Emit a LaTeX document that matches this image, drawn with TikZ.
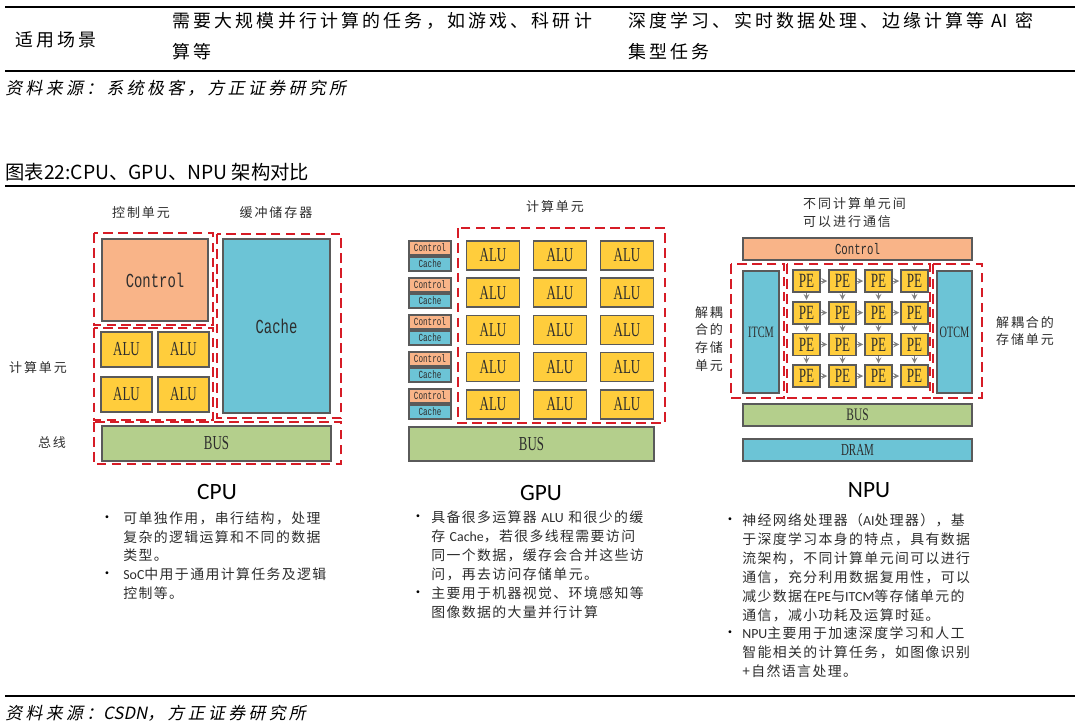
\documentclass[tikz,border=0pt]{standalone}
\usepackage{fontspec}
\setmainfont{Liberation Serif}
\newfontfamily\cjk{Noto Sans CJK SC}
\newfontfamily\cjkslant[FakeSlant=0.2]{Noto Sans CJK SC}
\newfontfamily\monofnt[FakeStretch=0.7]{Liberation Mono}
\newfontfamily\narrowfnt[FakeStretch=0.65]{Liberation Serif}
\newfontfamily\headfnt{Carlito}
\usepackage{tikz}
\usetikzlibrary
  {
    arrows,       % stealth tips in the PE grid
    positioning,  % place nodes relative to other nodes
    calc,
  }

\definecolor{ctrlorange}{RGB}{249,180,136}
\definecolor{cacheblue}{RGB}{108,196,214}
\definecolor{aluyellow}{RGB}{255,205,60}
\definecolor{busgreen}{RGB}{180,207,140}
\definecolor{dashred}{RGB}{214,28,38}
\definecolor{edgegray}{RGB}{90,90,90}
\definecolor{textdark}{RGB}{45,45,45}

\newcommand{\lt}[1]{{\headfnt #1}} % latin words inside the bullet text
\newcommand{\tight}[1]{{\addfontfeatures{LetterSpace=0}#1}} % latin words in spaced lines

\tikzset{
  wh/.style 2 args={minimum width=#1*0.02cm, minimum height=#2*0.02cm},
  blk/.style={draw=edgegray, line width=1pt, inner sep=0pt, text=textdark},
  ctrlbox/.style={blk, fill=ctrlorange},
  cachebox/.style={blk, fill=cacheblue},
  alubox/.style={blk, fill=aluyellow},
  busbox/.style={blk, fill=busgreen},
  region/.style={draw=dashred, line width=1.4pt, dash pattern=on 5.5pt off 3pt},
  flow/.style={draw=gray, line width=0.5pt, ->, >=stealth, shorten >=0.5pt},
  lbl/.style={font=\cjk\addfontfeatures{LetterSpace=15}\fontsize{7.4pt}{10.2pt}\selectfont, text=textdark},
  head/.style={font=\headfnt\fontsize{13.3pt}{15pt}\selectfont},
  bullettext/.style={anchor=north west, align=left, inner sep=0pt, text=textdark,
    font=\cjk\addfontfeatures{LetterSpace=10}\fontsize{7.9pt}{10.8pt}\selectfont},
  bulletmark/.style={inner sep=0pt, font=\cjk\fontsize{7.9pt}{9pt}\selectfont},
  tabtext/.style={inner sep=0pt, align=left,
    font=\cjk\addfontfeatures{LetterSpace=18}\fontsize{10.2pt}{17.6pt}\selectfont},
  srctext/.style={anchor=west, inner sep=0pt,
    font=\cjkslant\addfontfeatures{LetterSpace=20}\fontsize{9.6pt}{11pt}\selectfont},
}

\begin{document}
\begin{tikzpicture}[x=0.02cm, y=-0.02cm]
  \useasboundingbox (0,0) rectangle (1080,724);

  % table rows above the figure
  \draw[line width=1.7pt] (5,7) -- (1075,7);
  \node[tabtext, anchor=west] (scene) at (15,40) {适用场景};
  \node[tabtext, anchor=north west] (gpuuse) at (172,12)
    {需要大规模并行计算的任务，如游戏、科研计\\算等};
  \node[tabtext, anchor=north west] (npuuse) at (628,12)
    {深度学习、实时数据处理、边缘计算等 \tight{AI} 密\\集型任务};
  \draw[line width=1.7pt] (5,71) -- (1075,71);
  \node[srctext] (src1) at (5,88) {资料来源：系统极客，方正证券研究所};

  \node[anchor=west, inner sep=0pt, font=\cjk\fontsize{11pt}{12pt}\selectfont]
    (figtitle) at (5,172) {图表22:CPU、GPU、NPU 架构对比};
  \draw[line width=1.2pt] (5,186) -- (1075,186);

  % ---------------- CPU ----------------
  \node[lbl] (cpuctrllbl) at (141,213) {控制单元};
  \node[lbl] (cpucachelbl) at (276,213) {缓冲储存器};
  \node[lbl] (cpualulbl) at (38,368) {计算单元};
  \node[lbl] (cpubuslbl) at (52,443) {总线};

  \node[ctrlbox, wh={106}{82}, font=\monofnt\fontsize{11.3pt}{12pt}\selectfont]
    (ctrl) at (155,280) {Control};
  \foreach \r in {1,2}
    \foreach \c in {1,2}
      \node[alubox, wh={51}{35}, font=\narrowfnt\fontsize{11.3pt}{12pt}\selectfont]
        (alu-\r-\c) at (69.5+57*\c, 304.5+45*\r) {ALU};
  \node[cachebox, wh={107}{174}, font=\monofnt\fontsize{11.3pt}{12pt}\selectfont]
    (cache) at (276.5,326) {Cache};
  \node[busbox, wh={229}{35}, font=\narrowfnt\fontsize{11.3pt}{12pt}\selectfont]
    (bus) at (216.5,443.5) {BUS};

  \draw[region] (94,233) rectangle (213,325);
  \draw[region] (94,328) rectangle (213,420);
  \draw[region] (217,234) rectangle (341,418);
  \draw[region] (94,422) rectangle (341,464);

  \node[head] (cputitle) at (217,492) {CPU};
  \node[bulletmark] (cpub1) at (107,519) {•};
  \node[bullettext] (cput1) at (123,511)
    {可单独作用，串行结构，处理\\复杂的逻辑运算和不同的数据\\类型。};
  \node[bulletmark] (cpub2) at (107,575) {•};
  \node[bullettext] (cput2) at (123,567)
    {\lt{SoC}中用于通用计算任务及逻辑\\控制等。};

  % ---------------- GPU ----------------
  \node[lbl] (gpualulbl) at (555,207) {计算单元};
  \foreach \i in {0,...,4}
  {
    \node[ctrlbox, wh={42}{14}, font=\monofnt\fontsize{6.2pt}{7pt}\selectfont]
      (gctrl-\i) at (430,248+37*\i) {Control};
    \node[cachebox, wh={42}{14}, font=\monofnt\fontsize{6.2pt}{7pt}\selectfont,
      below=0pt of gctrl-\i] (gcache-\i) {Cache};
  }
  \foreach \r in {0,...,4}
    \foreach \c in {0,1,2}
      \node[alubox, wh={53}{29}, font=\narrowfnt\fontsize{11.3pt}{12pt}\selectfont]
        (galu-\r-\c) at (493+67*\c, 255.5+37.2*\r) {ALU};
  \draw[region] (458,228) rectangle (665,423);
  \node[busbox, wh={245}{34}, font=\narrowfnt\fontsize{11.3pt}{12pt}\selectfont]
    (gbus) at (531.5,444) {BUS};

  \node[head] (gputitle) at (541,493) {GPU};
  \node[bulletmark] (gpub1) at (418,518) {•};
  \node[bullettext] (gput1) at (431,510)
    {具备很多运算器 \lt{ALU} 和很少的缓\\存 \lt{Cache}，若很多线程需要访问\\同一个数据，缓存会合并这些访\\问，再去访问存储单元。};
  \node[bulletmark] (gpub2) at (418,594) {•};
  \node[bullettext] (gput2) at (431,586)
    {主要用于机器视觉、环境感知等\\图像数据的大量并行计算};

  % ---------------- NPU ----------------
  \node[lbl, anchor=north west, align=left] (npucomlbl) at (797,191)
    {不同计算单元间\\可以进行通信};
  \node[ctrlbox, wh={229}{22}, font=\monofnt\fontsize{8.7pt}{9pt}\selectfont]
    (nctrl) at (857.5,249) {Control};
  \node[cachebox, wh={36}{122}, font=\narrowfnt\fontsize{9pt}{10pt}\selectfont]
    (itcm) at (761,332) {ITCM};
  \node[cachebox, wh={35}{122}, font=\narrowfnt\fontsize{9pt}{10pt}\selectfont]
    (otcm) at (954.5,332) {OTCM};
  \foreach \r in {1,...,4}
    \foreach \c in {1,...,4}
      \node[alubox, wh={27}{22}, font=\narrowfnt\fontsize{11.5pt}{12pt}\selectfont]
        (pe-\r-\c) at (770.5+36*\c, 249.3+31.7*\r) {PE};
  % data flows right and down between the PEs
  \foreach \r in {1,...,4}
    \foreach \c [count=\n from 2] in {1,2,3}
      \draw[flow] (pe-\r-\c) -- (pe-\r-\n);
  \foreach \r [count=\n from 2] in {1,2,3}
    \foreach \c in {1,...,4}
      \draw[flow] (pe-\r-\c) -- (pe-\n-\c);

  \draw[region] (731,264) rectangle (784,398);
  \draw[region] (787,264) rectangle (930,398);
  \draw[region] (933,264) rectangle (982,398);

  \node[busbox, wh={229}{22}, font=\narrowfnt\fontsize{10pt}{11pt}\selectfont]
    (nbus) at (857.5,415) {BUS};
  \node[cachebox, wh={229}{22}, font=\narrowfnt\fontsize{9.6pt}{10pt}\selectfont]
    (dram) at (857.5,450) {DRAM};

  \node[lbl, align=center] (leftmemlbl) at (709,339) {解耦\\合的\\存储\\单元};
  \node[lbl, align=center] (rightmemlbl) at (1025,331) {解耦合的\\存储单元};

  \node[head] (nputitle) at (869,490) {NPU};
  \node[bulletmark] (npub1) at (730,521) {•};
  \node[bullettext] (nput1) at (742,513)
    {神经网络处理器（\lt{AI}处理器），基\\于深度学习本身的特点，具有数据\\流架构，不同计算单元间可以进行\\通信，充分利用数据复用性，可以\\减少数据在\lt{PE}与\lt{ITCM}等存储单元的\\通信，减小功耗及运算时延。};
  \node[bulletmark] (npub2) at (730,634) {•};
  \node[bullettext] (nput2) at (742,626)
    {\lt{NPU}主要用于加速深度学习和人工\\智能相关的计算任务，如图像识别\\+自然语言处理。};

  % source below the figure
  \draw[line width=1.2pt] (5,696) -- (1075,696);
  \node[srctext] (src2) at (5,713) {资料来源：\tight{CSDN}，方正证券研究所};
\end{tikzpicture}
\end{document}
